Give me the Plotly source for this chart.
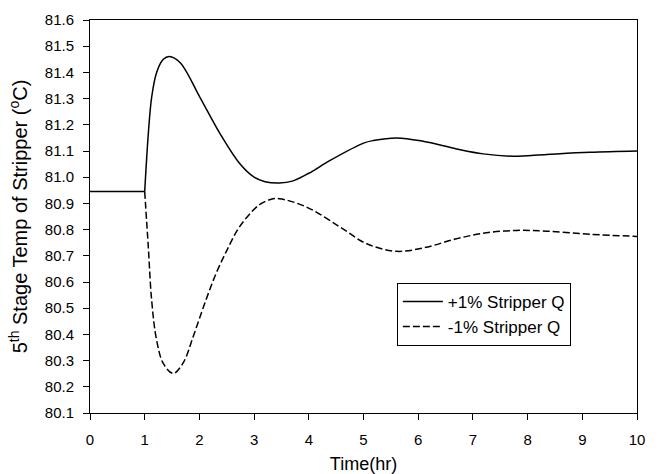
import plotly.graph_objects as go

# Baseline (before step at t=1)
t_base = [0.0, 1.0]
v_base = [80.945, 80.945]

# +1% Stripper Q
t_plus = [1.0, 1.066, 1.127, 1.218, 1.34, 1.45, 1.645, 2.01, 2.377, 2.74, 3.0, 3.2, 3.46,
          3.7, 4.0, 4.39, 5.0, 5.18, 5.61, 6.09, 6.7, 7.19, 7.73, 8.35, 9.14, 10.0]
v_plus = [80.945, 81.166, 81.305, 81.40, 81.45, 81.461, 81.438, 81.305, 81.166, 81.051, 81.0, 80.983, 80.978,
          80.985, 81.015, 81.064, 81.13, 81.14, 81.15, 81.137, 81.108, 81.089, 81.08, 81.087, 81.095, 81.10]

# -1% Stripper Q
t_minus = [1.0, 1.066, 1.127, 1.218, 1.34, 1.52, 1.7, 1.9, 2.1, 2.3, 2.5, 2.7, 2.9, 3.1, 3.3, 3.46,
           3.96, 4.57, 5.06, 5.61, 6.15, 6.7, 7.25, 7.8, 8.35, 9.14, 10.0]
v_minus = [80.945, 80.733, 80.53, 80.378, 80.289, 80.251, 80.29, 80.40, 80.52, 80.63, 80.72, 80.80, 80.855,
           80.895, 80.915, 80.918, 80.886, 80.81, 80.746, 80.717, 80.733, 80.765, 80.788, 80.797, 80.794,
           80.782, 80.774]

x_ticks = list(range(0, 11))
y_ticks = [round(80.1 + 0.1 * i, 1) for i in range(16)]
y_ticklabels = [f"{v:.1f}" for v in y_ticks]

series_names = ["+1% Stripper Q", "-1% Stripper Q"]

FONT = "Liberation Sans, Arial, sans-serif"

fig = go.Figure()
fig.add_trace(go.Scatter(x=t_base, y=v_base, mode="lines", showlegend=False,
                         line=dict(color="black", width=1.5), hoverinfo="skip"))
fig.add_trace(go.Scatter(x=t_plus, y=v_plus, mode="lines", name=series_names[0],
                         line=dict(color="black", width=1.5, shape="spline", smoothing=1.0)))
fig.add_trace(go.Scatter(x=t_minus, y=v_minus, mode="lines", name=series_names[1],
                         line=dict(color="black", width=1.5, shape="spline", smoothing=1.0,
                                   dash="7px,3px")))

fig.update_layout(
    width=659, height=474,
    margin=dict(l=90, r=22, t=20, b=61),
    paper_bgcolor="white", plot_bgcolor="white",
    font=dict(family=FONT, color="black", size=15),
    legend=dict(x=0.561, y=0.331, xanchor="left", yanchor="top",
                bgcolor="white", bordercolor="black", borderwidth=1, itemwidth=40,
                font=dict(size=17, family=FONT), tracegroupgap=0),
    xaxis=dict(range=[0, 10], tickvals=x_ticks, ticks="outside", ticklen=6, tickwidth=1,
               tickcolor="black", showline=True, linecolor="black", linewidth=1, mirror=True,
               showgrid=False, zeroline=False, tickfont=dict(size=15), ticklabelstandoff=7,
               automargin=False,
               title=dict(text="Time(hr)", font=dict(size=18), standoff=10)),
    yaxis=dict(range=[80.1, 81.6], tickvals=y_ticks, ticktext=y_ticklabels, ticks="outside",
               ticklen=6, tickwidth=1, tickcolor="black", showline=True, linecolor="black",
               linewidth=1, mirror=True, showgrid=False, zeroline=False, tickfont=dict(size=15),
               ticklabelstandoff=6, automargin=False,
               title=dict(text="5<sup>th</sup> Stage Temp of Stripper (<sup>o</sup>C)",
                          font=dict(size=20), standoff=11)),
)

fig.write_html("out.html")
